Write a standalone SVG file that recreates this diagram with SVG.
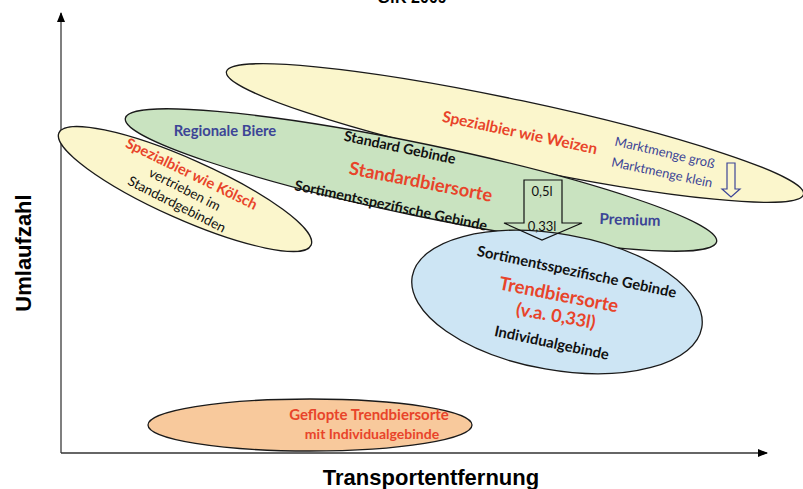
<svg xmlns="http://www.w3.org/2000/svg" width="803" height="489" viewBox="0 0 803 489">
<style>
.e{stroke:#1a1a1a;stroke-width:1.3}
.t{font-family:Lato,"Open Sans","Liberation Sans",sans-serif;text-anchor:middle;dominant-baseline:central}
.b{font-weight:bold}
.red{fill:#e8442a}
.blue{fill:#3c4596}
.blk{fill:#111}
.ax{font-family:"Liberation Sans",Arial,sans-serif;font-weight:bold;fill:#000}
</style>
<defs>
<marker id="ah" markerWidth="10" markerHeight="8" refX="9" refY="4" orient="auto" markerUnits="userSpaceOnUse">
<path d="M0,0 L10,4 L0,8 Z" fill="#000"/>
</marker>
</defs>
<rect width="803" height="489" fill="#fff"/>
<text class="ax" x="412" y="3" font-size="16" text-anchor="middle">GfK 2009</text>
<g id="axes">
<line x1="61" y1="453" x2="61" y2="13" stroke="#555" stroke-width="1.5" marker-end="url(#ah)"/>
<line x1="61" y1="453" x2="767" y2="453" stroke="#333" stroke-width="1.5" marker-end="url(#ah)"/>
<text class="ax" x="23" y="253" font-size="22" text-anchor="middle" dominant-baseline="central" transform="rotate(-90 23 253)">Umlaufzahl</text>
<text class="ax" x="431" y="485" font-size="22" text-anchor="middle">Transportentfernung</text>
</g>
<g id="weizen">
<ellipse class="e" cx="515" cy="133" rx="295" ry="33" fill="#fbf6cc" transform="rotate(12 515 133)"/>
</g>
<g id="standard">
<ellipse class="e" cx="421" cy="180" rx="302" ry="36" fill="#c9e3c0" transform="rotate(11.8 421 180)"/>
</g>
<g id="weizen-text">
<text class="t b red" x="520" y="132" font-size="15.5" transform="rotate(12 520 132)">Spezialbier wie Weizen</text>
<text class="t blue" x="665" y="152" font-size="13" transform="rotate(13 665 152)">Marktmenge groß</text>
<text class="t blue" x="662" y="172" font-size="13" transform="rotate(12 662 172)">Marktmenge klein</text>
<path d="M727,163 L735,163 L735,189 L740,189 L731,197 L722,189 L727,189 Z" fill="none" stroke="#3c4596" stroke-width="1.2"/>
</g>
<g id="standard-text">
<text class="t b blue" x="225" y="130" font-size="14.8">Regionale Biere</text>
<text class="t b blk" x="400" y="147" font-size="14.3" transform="rotate(12 400 147)">Standard Gebinde</text>
<text class="t b red" x="421" y="181" font-size="18.2" transform="rotate(11 421 181)">Standardbiersorte</text>
<text class="t b blk" x="391" y="205" font-size="14.3" transform="rotate(12 391 205)">Sortimentsspezifische Gebinde</text>
<text class="t b blue" x="630" y="219" font-size="15.3" transform="rotate(2 630 219)">Premium</text>
</g>
<g id="koelsch">
<ellipse class="e" cx="185" cy="189" rx="138" ry="30" fill="#fbf6cc" transform="rotate(24 185 189)"/>
<text class="t b red" x="192" y="173" font-size="14.7" transform="rotate(26 192 173)">Spezialbier wie Kölsch</text>
<text class="t blk" x="185" y="189" font-size="13.4" transform="rotate(27 185 189)">vertrieben im</text>
<text class="t blk" x="177" y="204" font-size="13.6" transform="rotate(27 177 204)">Standardgebinden</text>
</g>
<g id="trend">
<ellipse class="e" cx="557" cy="302" rx="147" ry="68" fill="#cde5f4" transform="rotate(10 557 302)"/>
<text class="t b blk" x="577" y="271" font-size="14.8" transform="rotate(12 577 271)">Sortimentsspezifische Gebinde</text>
<text class="t b red" x="559" y="294" font-size="18.5" transform="rotate(11 559 294)">Trendbiersorte</text>
<text class="t b red" x="556" y="315" font-size="18" transform="rotate(10 556 315)">(v.a. 0,33l)</text>
<text class="t b blk" x="552" y="342" font-size="14.8" transform="rotate(12 552 342)">Individualgebinde</text>
</g>
<g id="flop">
<ellipse class="e" cx="310" cy="425" rx="162" ry="26" fill="#f8c99c"/>
<text class="t b red" x="369" y="414" font-size="15">Geflopte Trendbiersorte</text>
<text class="t b red" x="372" y="433" font-size="14">mit Individualgebinde</text>
</g>
<g id="connectors">
<path d="M524,180 L562,180 L562,223 L582,223 L542,240 L504,223 L524,223 Z" fill="none" stroke="#111" stroke-width="1.2"/>
<text class="t blk" x="542" y="191" font-size="13">0,5l</text>
<text class="t blk" x="542" y="226" font-size="13">0,33l</text>
</g>
</svg>
